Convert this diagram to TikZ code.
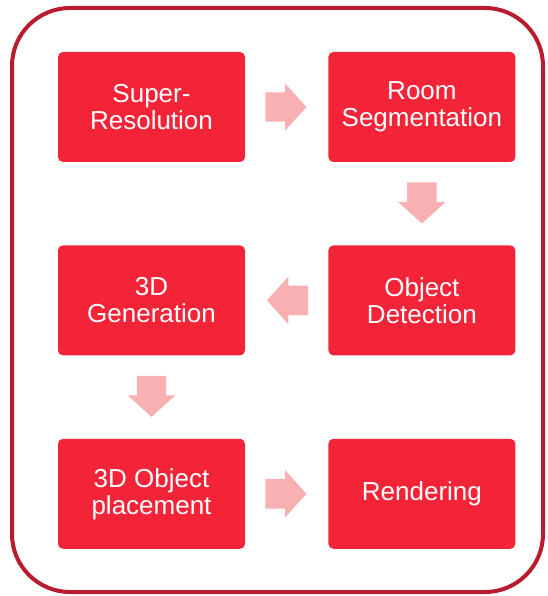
\documentclass[tikz,border=0pt]{standalone}
\usepackage{fontspec}
\setmainfont{Liberation Sans}
\usetikzlibrary{positioning,shapes.arrows,calc}

\definecolor{boxred}{RGB}{244,36,56}
\definecolor{framered}{RGB}{184,28,46}
\definecolor{arrowpink}{RGB}{248,176,179}

\begin{document}
\begin{tikzpicture}[x=1pt,y=-1pt,
    stepbox/.style={fill=boxred, draw=none, rounded corners=5pt,
      minimum width=187pt, minimum height=110pt, text=white,
      align=center, font=\fontsize{26}{27}\selectfont, inner sep=0pt},
    flow/.style={single arrow, fill=arrowpink, draw=none, anchor=tail,
      minimum height=41pt, inner xsep=0pt, inner ysep=14.5pt,
      single arrow head extend=9pt, single arrow tip angle=96}]
  \useasboundingbox (0,0) rectangle (547,596);

  % Draw outer frame
  \draw[framered, line width=4pt, rounded corners=58pt] (12,8) rectangle (543,592);

  % Draw the steps
  \node[stepbox] (sr) at (151.5,107) {Super-\\Resolution};
  \node[stepbox, right=83pt of sr] (rs) {Room\\Segmentation};
  \node[stepbox, below=83pt of rs] (od) {Object\\Detection};
  \node[stepbox, left=83pt of od] (gen) {3D\\Generation};
  \node[stepbox, below=83pt of gen] (pl) {3D Object\\placement};
  \node[stepbox, right=83pt of pl] (rd) {Rendering};

  % Draw arrows between the steps
  \node[flow] (a1) at ($(sr.east)!20pt!(rs.west)$) {};
  \node[flow, rotate=-90] (a2) at ($(rs.south)!20pt!(od.north)$) {};
  \node[flow, rotate=180] (a3) at ($(od.west)!20pt!(gen.east)$) {};
  \node[flow, rotate=-90] (a4) at ($(gen.south)!20pt!(pl.north)$) {};
  \node[flow] (a5) at ($(pl.east)!20pt!(rd.west)$) {};
\end{tikzpicture}
\end{document}
